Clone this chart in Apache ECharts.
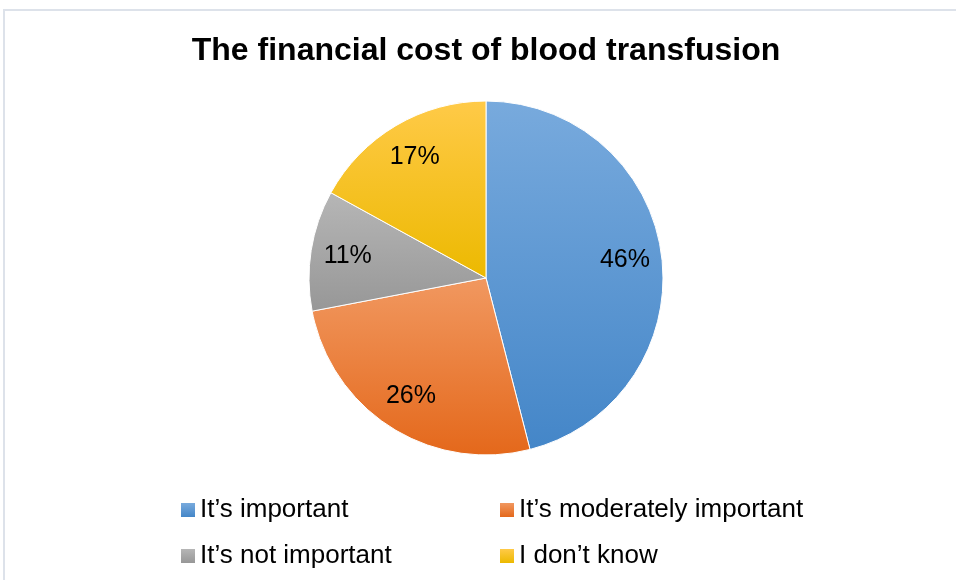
<!DOCTYPE html>
<html>
<head>
<meta charset="utf-8">
<script src="https://cdn.jsdelivr.net/npm/echarts@6/dist/echarts.min.js"></script>
<style>
  html, body { margin: 0; padding: 0; background: #fff; }
  #main { width: 956px; height: 580px; }
</style>
</head>
<body>
<div id="main"></div>
<script>
// answers, clockwise from 12 o'clock
var categories = ["It’s important", "It’s moderately important", "It’s not important", "I don’t know"];
var values = [46, 26, 11, 17];

// slice shading, light at top and dark at bottom
var topColors = ["#78aadd", "#f19860", "#b6b6b6", "#ffca48"];
var bottomColors = ["#4486c8", "#e4681b", "#979797", "#ecb900"];

var chart = echarts.init(document.getElementById("main"));

var slices = categories.map(function (name, i) {
  return {
    name: name,
    value: values[i],
    itemStyle: {
      color: new echarts.graphic.LinearGradient(0, 0, 0, 1, [
        { offset: 0, color: topColors[i] },
        { offset: 1, color: bottomColors[i] },
      ]),
    },
  };
});

var legendText = {
  fontFamily: "Arial, 'Liberation Sans', sans-serif",
  fontSize: 26,
  lineHeight: 26,
  color: "#000",
};

function legendCol(left, names) {
  return {
    orient: "vertical",
    left: left,
    top: 492,
    itemWidth: 14,
    itemHeight: 14,
    itemGap: 20,
    icon: "rect",
    selectedMode: false,
    itemStyle: { borderWidth: 0 },
    textStyle: legendText,
    data: names,
  };
}

var option = {
  backgroundColor: "#fff",
  animation: false,
  title: {
    text: "The financial cost of blood transfusion",
    left: 481,
    textAlign: "center",
    top: 30,
    textStyle: {
      fontFamily: "Arial, 'Liberation Sans', sans-serif",
      fontSize: 32,
      fontWeight: "bold",
      color: "#000",
    },
  },
  graphic: [
    {
      type: "rect",
      shape: { x: 4, y: 10, width: 1000, height: 1000 },
      style: { fill: "none", stroke: "#dde2ea", lineWidth: 2 },
      silent: true,
    },
  ],
  legend: [
    legendCol(176, [categories[0], categories[2]]),
    legendCol(495, [categories[1], categories[3]]),
  ],
  series: [
    {
      name: "cost",
      type: "pie",
      center: [486, 278],
      radius: 177,
      startAngle: 90,
      clockwise: true,
      silent: true,
      label: { show: false },
      labelLine: { show: false },
      itemStyle: { borderColor: "#fff", borderWidth: 1 },
      data: slices,
    },
    {
      // transparent ring, only used to place the percent labels
      name: "labels",
      type: "pie",
      center: [486, 278],
      radius: [97, 177],
      startAngle: 90,
      clockwise: true,
      silent: true,
      itemStyle: { color: "rgba(0,0,0,0)" },
      label: {
        show: true,
        position: "inside",
        formatter: "{c}%",
        fontFamily: "Arial, 'Liberation Sans', sans-serif",
        fontSize: 25,
        color: "#000",
      },
      labelLine: { show: false },
      data: categories.map(function (name, i) {
        return { name: name, value: values[i] };
      }),
    },
  ],
};

chart.setOption(option);
</script>
</body>
</html>
